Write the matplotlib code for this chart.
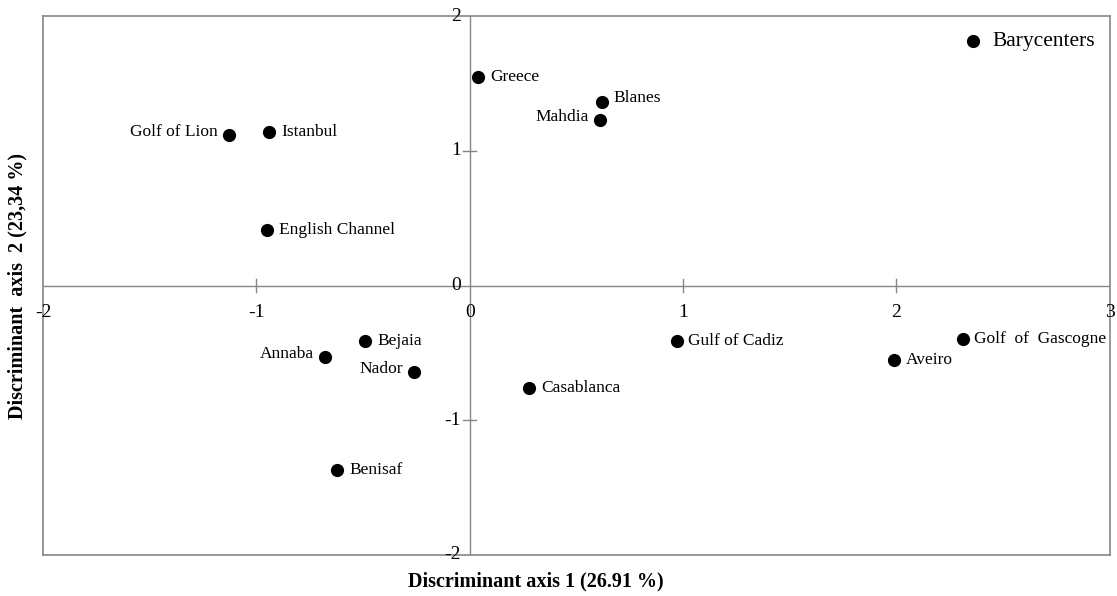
import matplotlib.pyplot as plt

plt.rcParams['font.family'] = ['Liberation Serif', 'DejaVu Serif']

sites = ["Greece", "Blanes", "Mahdia", "Golf of Lion", "Istanbul", "English Channel",
         "Bejaia", "Annaba", "Nador", "Casablanca", "Benisaf",
         "Gulf of Cadiz", "Aveiro", "Golf  of  Gascogne"]
axis1 = [0.04, 0.62, 0.61, -1.13, -0.94, -0.95,
         -0.49, -0.68, -0.26, 0.28, -0.62,
         0.97, 1.99, 2.31]
axis2 = [1.55, 1.36, 1.23, 1.12, 1.14, 0.41,
         -0.41, -0.53, -0.64, -0.76, -1.37,
         -0.41, -0.55, -0.40]
# labels that sit to the left of their point
left_labels = ["Mahdia", "Golf of Lion", "Annaba", "Nador"]

grey = "#868686"

fig = plt.figure(figsize=(11.17, 5.96), dpi=100)
ax = fig.add_axes([0.0385, 0.0688, 0.955, 0.904])

ax.scatter(axis1, axis2, s=72, color="black", zorder=3, label="Barycenters")

for name, x, y in zip(sites, axis1, axis2):
    if name in left_labels:
        ax.annotate(name, (x, y), xytext=(-8, 2), textcoords="offset points",
                    ha="right", va="center", fontsize=12.5)
    else:
        dy = 3 if name == "Blanes" else 0
        ax.annotate(name, (x, y), xytext=(8.5, dy), textcoords="offset points",
                    ha="left", va="center", fontsize=12.5)

ax.set_xlim(-2, 3)
ax.set_ylim(-2, 2)

# axes crossing at the origin
ax.axhline(0, color=grey, lw=1, zorder=1)
ax.axvline(0, color=grey, lw=1, zorder=1)
for s in ax.spines.values():
    s.set_color(grey)
    s.set_linewidth(1.2)

xt = [-2, -1, 0, 1, 2, 3]
yt = [-2, -1, 0, 1, 2]
for v in xt:
    if v not in (-2, 0, 3):
        ax.plot([v, v], [-0.05, 0.05], color=grey, lw=1, zorder=1)
    ax.text(v, -0.2, str(v), ha="center", va="center", fontsize=14)
for v in yt:
    if v not in (-2, 0, 2):
        ax.plot([-0.03, 0.03], [v, v], color=grey, lw=1, zorder=1)
    ax.text(-0.04, v, str(v), ha="right", va="center", fontsize=14)
ax.set_xticks([])
ax.set_yticks([])

ax.legend(loc="upper right", frameon=False, fontsize=15.5, handlelength=0.8,
          handletextpad=0.5, markerscale=1.0, borderaxespad=0.3)

fig.text(0.48, 0.024, "Discriminant axis 1 (26.91 %)", ha="center", va="center",
         fontsize=14.5, fontweight="bold")
fig.text(0.016, 0.52, "Discriminant  axis  2 (23,34 %)", ha="center", va="center",
         rotation=90, fontsize=14.5, fontweight="bold")

fig.savefig("out.png", dpi=100)
